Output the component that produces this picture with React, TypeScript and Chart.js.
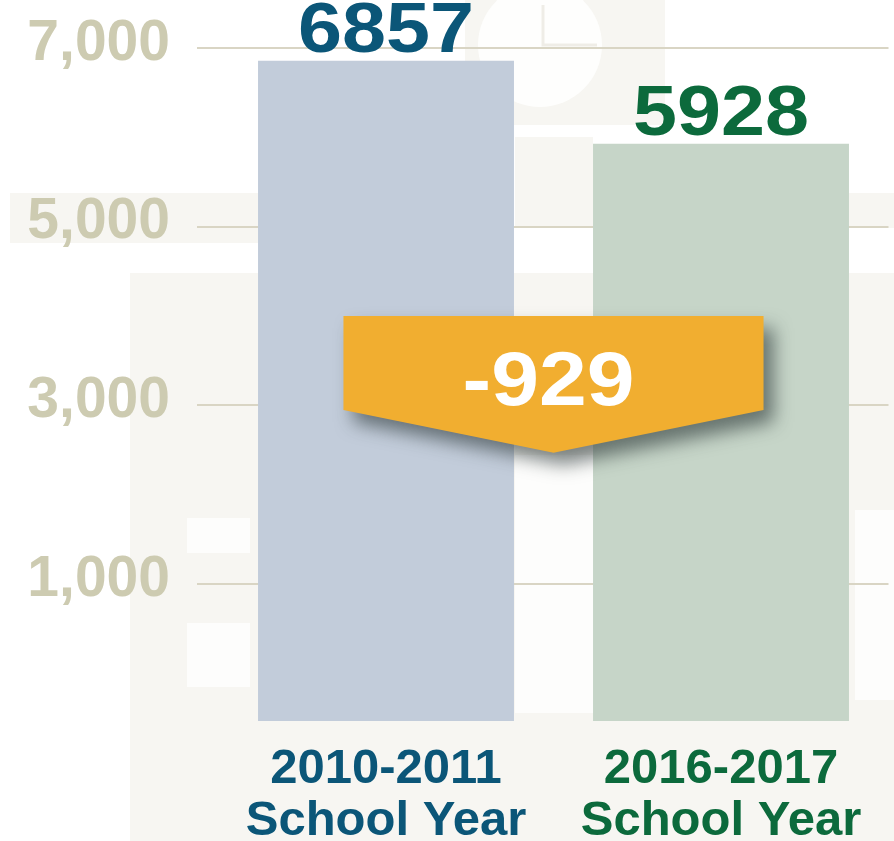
import { useEffect, useRef } from "react";
import { Chart, registerables } from "chart.js";

Chart.register(...registerables);

const CATEGORIES = [
  ["2010-2011", "School Year"],
  ["2016-2017", "School Year"],
];
const VALUES = [6857, 5928];
const Y_TICKS = [1000, 3000, 5000, 7000];
const BAR_COLORS = ["#c2ccda", "#c6d5c8"];
const LABEL_COLORS = ["#0b5678", "#0c6a3c"];

const FONT = '"Liberation Sans", Arial, Helvetica, sans-serif';
const Y_MIN = -530;
const Y_MAX = 7450;

const backgroundPlugin = {
  id: "bgDecor",
  beforeDraw(chart: any) {
    const ctx = chart.ctx;
    const W = chart.width;
    const H = chart.height;
    ctx.save();
    ctx.fillStyle = "#ffffff";
    ctx.fillRect(0, 0, W, H);
    const beige = "#f7f6f2";
    ctx.fillStyle = beige;
    // clock panel
    ctx.fillRect(465, 0, 200, 125);
    // bands
    ctx.fillRect(10, 193, 250, 50);
    ctx.fillRect(515, 137, 78, 90);
    ctx.fillRect(849, 193, 45, 35);
    // big lower panel
    ctx.fillRect(130, 273, W - 130, H - 273);
    // white cut-outs
    ctx.fillStyle = "#fdfdfc";
    ctx.fillRect(515, 455, 78, 258);
    ctx.fillRect(187, 518, 63, 35);
    ctx.fillRect(187, 623, 63, 64);
    ctx.fillRect(855, 510, 39, 190);
    // clock
    ctx.beginPath();
    ctx.arc(540, 45, 62, 0, Math.PI * 2);
    ctx.fillStyle = "#fefefd";
    ctx.fill();
    ctx.strokeStyle = "#efede7";
    ctx.lineWidth = 3;
    ctx.beginPath();
    ctx.moveTo(543, 5);
    ctx.lineTo(543, 45);
    ctx.lineTo(597, 45);
    ctx.stroke();
    ctx.restore();
  },
};

function drawStretched(ctx: any, text: string, x: number, y: number, sx: number) {
  ctx.save();
  ctx.translate(x, y);
  ctx.scale(sx, 1);
  ctx.fillText(text, 0, 0);
  ctx.restore();
}

const annotationPlugin = {
  id: "valueLabels",
  afterDatasetsDraw(chart: any) {
    const ctx = chart.ctx;
    const meta = chart.getDatasetMeta(0);
    const yScale = chart.scales.y;
    ctx.save();
    // value labels above bars
    ctx.font = `bold 70px ${FONT}`;
    ctx.textAlign = "center";
    ctx.textBaseline = "alphabetic";
    meta.data.forEach((bar: any, i: number) => {
      ctx.fillStyle = LABEL_COLORS[i];
      drawStretched(ctx, String(VALUES[i]), bar.x, bar.y - 9, 1.13);
    });

    // difference callout
    const x0 = meta.data[0].x;
    const x1 = meta.data[1].x;
    const cx = (x0 + x1) / 2;
    const halfW = (x1 - x0) * 0.627;
    const yTop = yScale.getPixelForValue(4000);
    const unit = yScale.getPixelForValue(3000) - yTop;
    const ySide = yTop + unit * 1.05;
    const yTip = yTop + unit * 1.53;
    ctx.save();
    ctx.shadowColor = "rgba(40,52,52,0.6)";
    ctx.shadowBlur = 18;
    ctx.shadowOffsetX = 10;
    ctx.shadowOffsetY = 12;
    ctx.fillStyle = "#f1ae30";
    ctx.beginPath();
    ctx.moveTo(cx - halfW, yTop);
    ctx.lineTo(cx + halfW, yTop);
    ctx.lineTo(cx + halfW, ySide);
    ctx.lineTo(cx, yTip);
    ctx.lineTo(cx - halfW, ySide);
    ctx.closePath();
    ctx.fill();
    ctx.restore();

    const diff = VALUES[1] - VALUES[0];
    ctx.font = `bold 76px ${FONT}`;
    ctx.fillStyle = "#ffffff";
    ctx.textAlign = "center";
    ctx.textBaseline = "alphabetic";
    drawStretched(ctx, String(diff), cx - 5, yTop + unit, 1.13);
    ctx.restore();
  },
};

export default function App() {
  const canvasRef = useRef<HTMLCanvasElement | null>(null);

  useEffect(() => {
    if (!canvasRef.current) return;
    const chart = new Chart(canvasRef.current, {
      type: "bar",
      data: {
        labels: CATEGORIES,
        datasets: [
          {
            data: VALUES,
            backgroundColor: BAR_COLORS,
            borderWidth: 0,
            base: Y_MIN,
            barPercentage: 1,
            categoryPercentage: 0.764,
          } as any,
        ],
      },
      options: {
        animation: false,
        responsive: true,
        maintainAspectRatio: false,
        layout: { padding: { top: 7.7, right: 5.5, left: 0, bottom: 0 } },
        plugins: {
          legend: { display: false },
          tooltip: { enabled: false },
          title: { display: false },
        },
        scales: {
          x: {
            afterFit: (s: any) => {
              s.height = 120;
              s.paddingLeft = 0;
              s.paddingRight = 0;
              s.paddingTop = 0;
              s.paddingBottom = 0;
            },
            grid: { display: false, drawTicks: false },
            border: { display: false },
            ticks: {
              autoSkip: false,
              maxRotation: 0,
              minRotation: 0,
              padding: 23,
              color: (c: any) => LABEL_COLORS[c.index] || LABEL_COLORS[0],
              font: { family: FONT, size: 49, weight: "bold", lineHeight: 1.06 },
            },
          },
          y: {
            min: Y_MIN,
            max: Y_MAX,
            afterBuildTicks: (s: any) => {
              s.ticks = Y_TICKS.map((v) => ({ value: v }));
            },
            afterFit: (s: any) => {
              s.width = 218.5;
              s.paddingTop = 0;
              s.paddingBottom = 0;
              s.paddingLeft = 0;
              s.paddingRight = 0;
            },
            border: { display: false },
            grid: {
              color: "#d9d5c4",
              lineWidth: 2,
              tickLength: 21.5,
              drawTicks: true,
            },
            ticks: {
              padding: 27,
              labelOffset: -4,
              color: "#cdcbb1",
              font: { family: FONT, size: 57, weight: "bold" },
              callback: (v: any) => Number(v).toLocaleString("en-US"),
            },
          },
        },
      },
      plugins: [backgroundPlugin, annotationPlugin],
    });
    return () => chart.destroy();
  }, []);

  return (
    <div
      style={{
        position: "fixed",
        left: 0,
        top: 0,
        width: 894,
        height: 841,
        background: "#ffffff",
      }}
    >
      <canvas ref={canvasRef} />
    </div>
  );
}
